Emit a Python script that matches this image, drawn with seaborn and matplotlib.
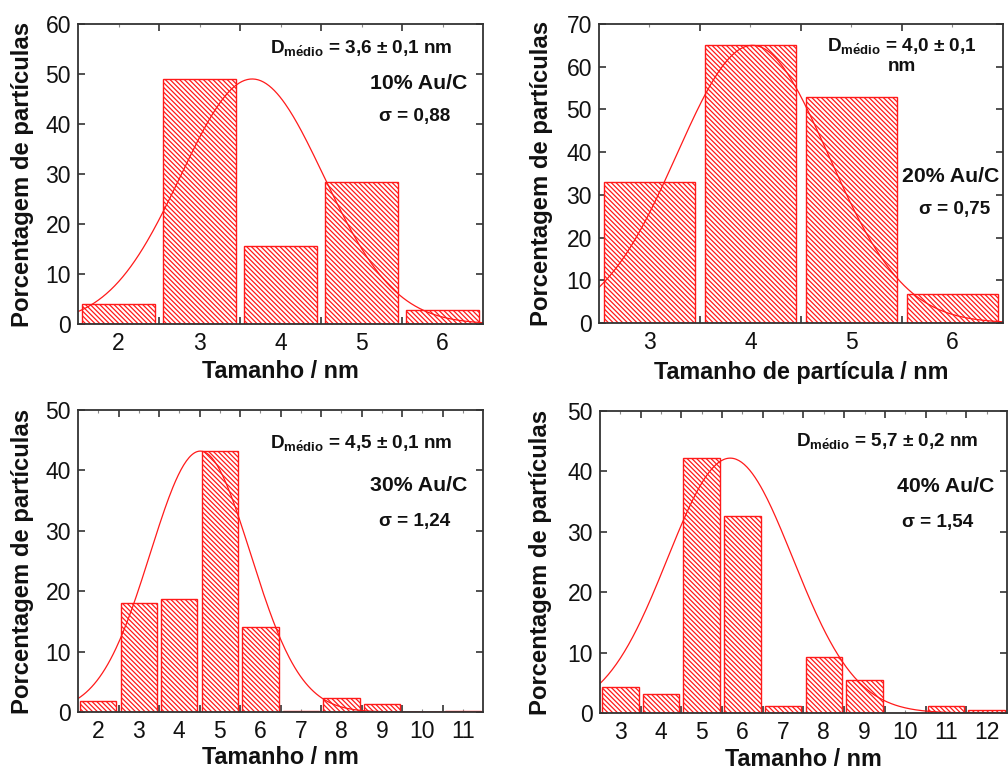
import numpy as np
import pandas as pd
import matplotlib
matplotlib.use("Agg")
import matplotlib.pyplot as plt
import seaborn as sns
from matplotlib.ticker import FixedLocator, NullFormatter, FixedFormatter

# ---------------- data ----------------
sizes_10 = [2, 3, 4, 5, 6]
pct_10 = [3.9, 49.0, 15.6, 28.4, 2.7]

sizes_20 = [3, 4, 5, 6]
pct_20 = [33.0, 65.0, 53.0, 6.8]

sizes_30 = [2, 3, 4, 5, 6, 7, 8, 9, 10, 11]
pct_30 = [1.8, 18.0, 18.7, 43.2, 14.0, 0.2, 2.3, 1.3, 0.0, 0.2]

sizes_40 = [3, 4, 5, 6, 7, 8, 9, 10, 11, 12]
pct_40 = [4.3, 3.1, 42.2, 32.6, 1.1, 9.2, 5.4, 0.0, 1.1, 0.55]

# Gaussian fit parameters (amplitude, centre, sigma)
fit_amp = [49.0, 65.0, 43.2, 42.2]
fit_mu = [3.65, 4.02, 4.52, 5.70]
fit_sigma = [0.88, 0.75, 1.24, 1.54]

labels_sample = ["10% Au/C", "20% Au/C", "30% Au/C", "40% Au/C"]
labels_dmedio = ["3,6 \u00b1 0,1 nm", "4,0 \u00b1 0,1\nnm", "4,5 \u00b1 0,1 nm", "5,7 \u00b1 0,2 nm"]
labels_sigma = ["\u03c3 = 0,88", "\u03c3 = 0,75", "\u03c3 = 1,24", "\u03c3 = 1,54"]
xlabels = ["Tamanho / nm", "Tamanho de part\u00edcula / nm", "Tamanho / nm", "Tamanho / nm"]
ylabel = "Porcentagem de part\u00edculas"
xlims = [(1.5, 6.5), (2.5, 6.5), (1.5, 11.5), (2.5, 12.5)]
ymaxs = [60, 70, 50, 50]

# ---------------- style ----------------
sns.set_theme(style="white")
plt.rcParams.update({
    "font.family": ["Liberation Sans", "DejaVu Sans"],
    "mathtext.fontset": "custom",
    "mathtext.rm": "Liberation Sans",
    "mathtext.bf": "Liberation Sans:bold",
    "mathtext.it": "Liberation Sans:italic",
    "hatch.color": "#ff2020",
    "hatch.linewidth": 0.9,
    "axes.edgecolor": "#333333",
    "axes.linewidth": 1.3,
})

fig = plt.figure(figsize=(10.08, 7.71), dpi=100)
positions = [
    [0.0774, 0.5798, 0.4018, 0.3891],
    [0.5942, 0.5811, 0.4008, 0.3878],
    [0.0774, 0.0765, 0.4018, 0.3917],
    [0.5952, 0.0752, 0.4038, 0.3917],
]

datasets = [(sizes_10, pct_10), (sizes_20, pct_20), (sizes_30, pct_30), (sizes_40, pct_40)]

# annotation positions (axes fraction)
d_pos = [(0.70, 0.92), (0.75, 0.895), (0.70, 0.89), (0.705, 0.90)]
s_pos = [(0.84, 0.80), (0.87, 0.49), (0.84, 0.75), (0.85, 0.75)]
sig_pos = [(0.83, 0.69), (0.88, 0.38), (0.83, 0.63), (0.83, 0.63)]
ylab_x = [-0.138, -0.141, -0.138, -0.147]
xlab_y = [-0.16, -0.164, -0.152, -0.153]

red = "#ff1a1a"

for i, (sz, pc) in enumerate(datasets):
    ax = fig.add_axes(positions[i])
    df = pd.DataFrame({"size": sz, "pct": pc})
    sns.barplot(data=df, x="size", y="pct", native_scale=True, width=0.9,
                color="white", saturation=1, edgecolor=red, linewidth=1.0,
                errorbar=None, ax=ax)
    for p in ax.patches:
        p.set_hatch("\\" * 7)
        p.set_edgecolor(red)
        p.set_facecolor("white")

    lo, hi = xlims[i]
    xs = np.linspace(lo, hi, 300)
    ys = fit_amp[i] * np.exp(-(xs - fit_mu[i]) ** 2 / (2 * fit_sigma[i] ** 2))
    sns.lineplot(x=xs, y=ys, color=red, linewidth=0.9, ax=ax)

    ax.set_xlim(lo, hi)
    ax.set_ylim(0, ymaxs[i])

    # ticks: major at bin edges (unlabelled), minor at bin centres (labelled)
    ax.xaxis.set_major_locator(FixedLocator(np.arange(lo + 1, hi, 1.0)))
    ax.xaxis.set_major_formatter(NullFormatter())
    ax.xaxis.set_minor_locator(FixedLocator(sz))
    ax.xaxis.set_minor_formatter(FixedFormatter([str(v) for v in sz]))
    ax.yaxis.set_major_locator(FixedLocator(np.arange(0, ymaxs[i] + 1, 10)))
    ax.yaxis.set_major_formatter(FixedFormatter([str(v) for v in range(0, ymaxs[i] + 1, 10)]))
    ax.tick_params(axis="x", which="major", direction="in", top=True, bottom=True,
                   length=5, width=1.2, color="#333333")
    ax.tick_params(axis="x", which="minor", direction="in", top=True, bottom=True,
                   length=2.5, width=0.8, color="#888888", labelsize=16.5, pad=6,
                   labelcolor="#111111")
    ax.tick_params(axis="y", which="major", direction="in", left=True, right=True,
                   length=5, width=1.2, color="#333333", labelsize=16.5, pad=5,
                   labelcolor="#111111")

    for s in ax.spines.values():
        s.set_visible(True)
        s.set_color("#333333")

    ax.set_xlabel(xlabels[i], fontsize=16.8, fontweight="bold", color="#111111")
    ax.set_ylabel(ylabel, fontsize=17.2, fontweight="bold", color="#111111")
    ax.xaxis.label.set_va("center")
    ax.yaxis.label.set_va("center")
    ax.yaxis.set_label_coords(ylab_x[i], 0.5)
    ax.xaxis.set_label_coords(0.5, xlab_y[i])

    ax.text(d_pos[i][0], d_pos[i][1],
            r"$\mathbf{D}_{\mathbf{m\acute{e}dio}}$ = " + labels_dmedio[i],
            transform=ax.transAxes, ha="center", va="center",
            fontsize=13.6, fontweight="bold", color="#111111",
            linespacing=1.1)
    ax.text(s_pos[i][0], s_pos[i][1], labels_sample[i], transform=ax.transAxes,
            ha="center", va="center", fontsize=15.3, fontweight="bold", color="#111111")
    ax.text(sig_pos[i][0], sig_pos[i][1], labels_sigma[i], transform=ax.transAxes,
            ha="center", va="center", fontsize=13.6, fontweight="bold", color="#111111")

fig.savefig("out.png", dpi=100)
